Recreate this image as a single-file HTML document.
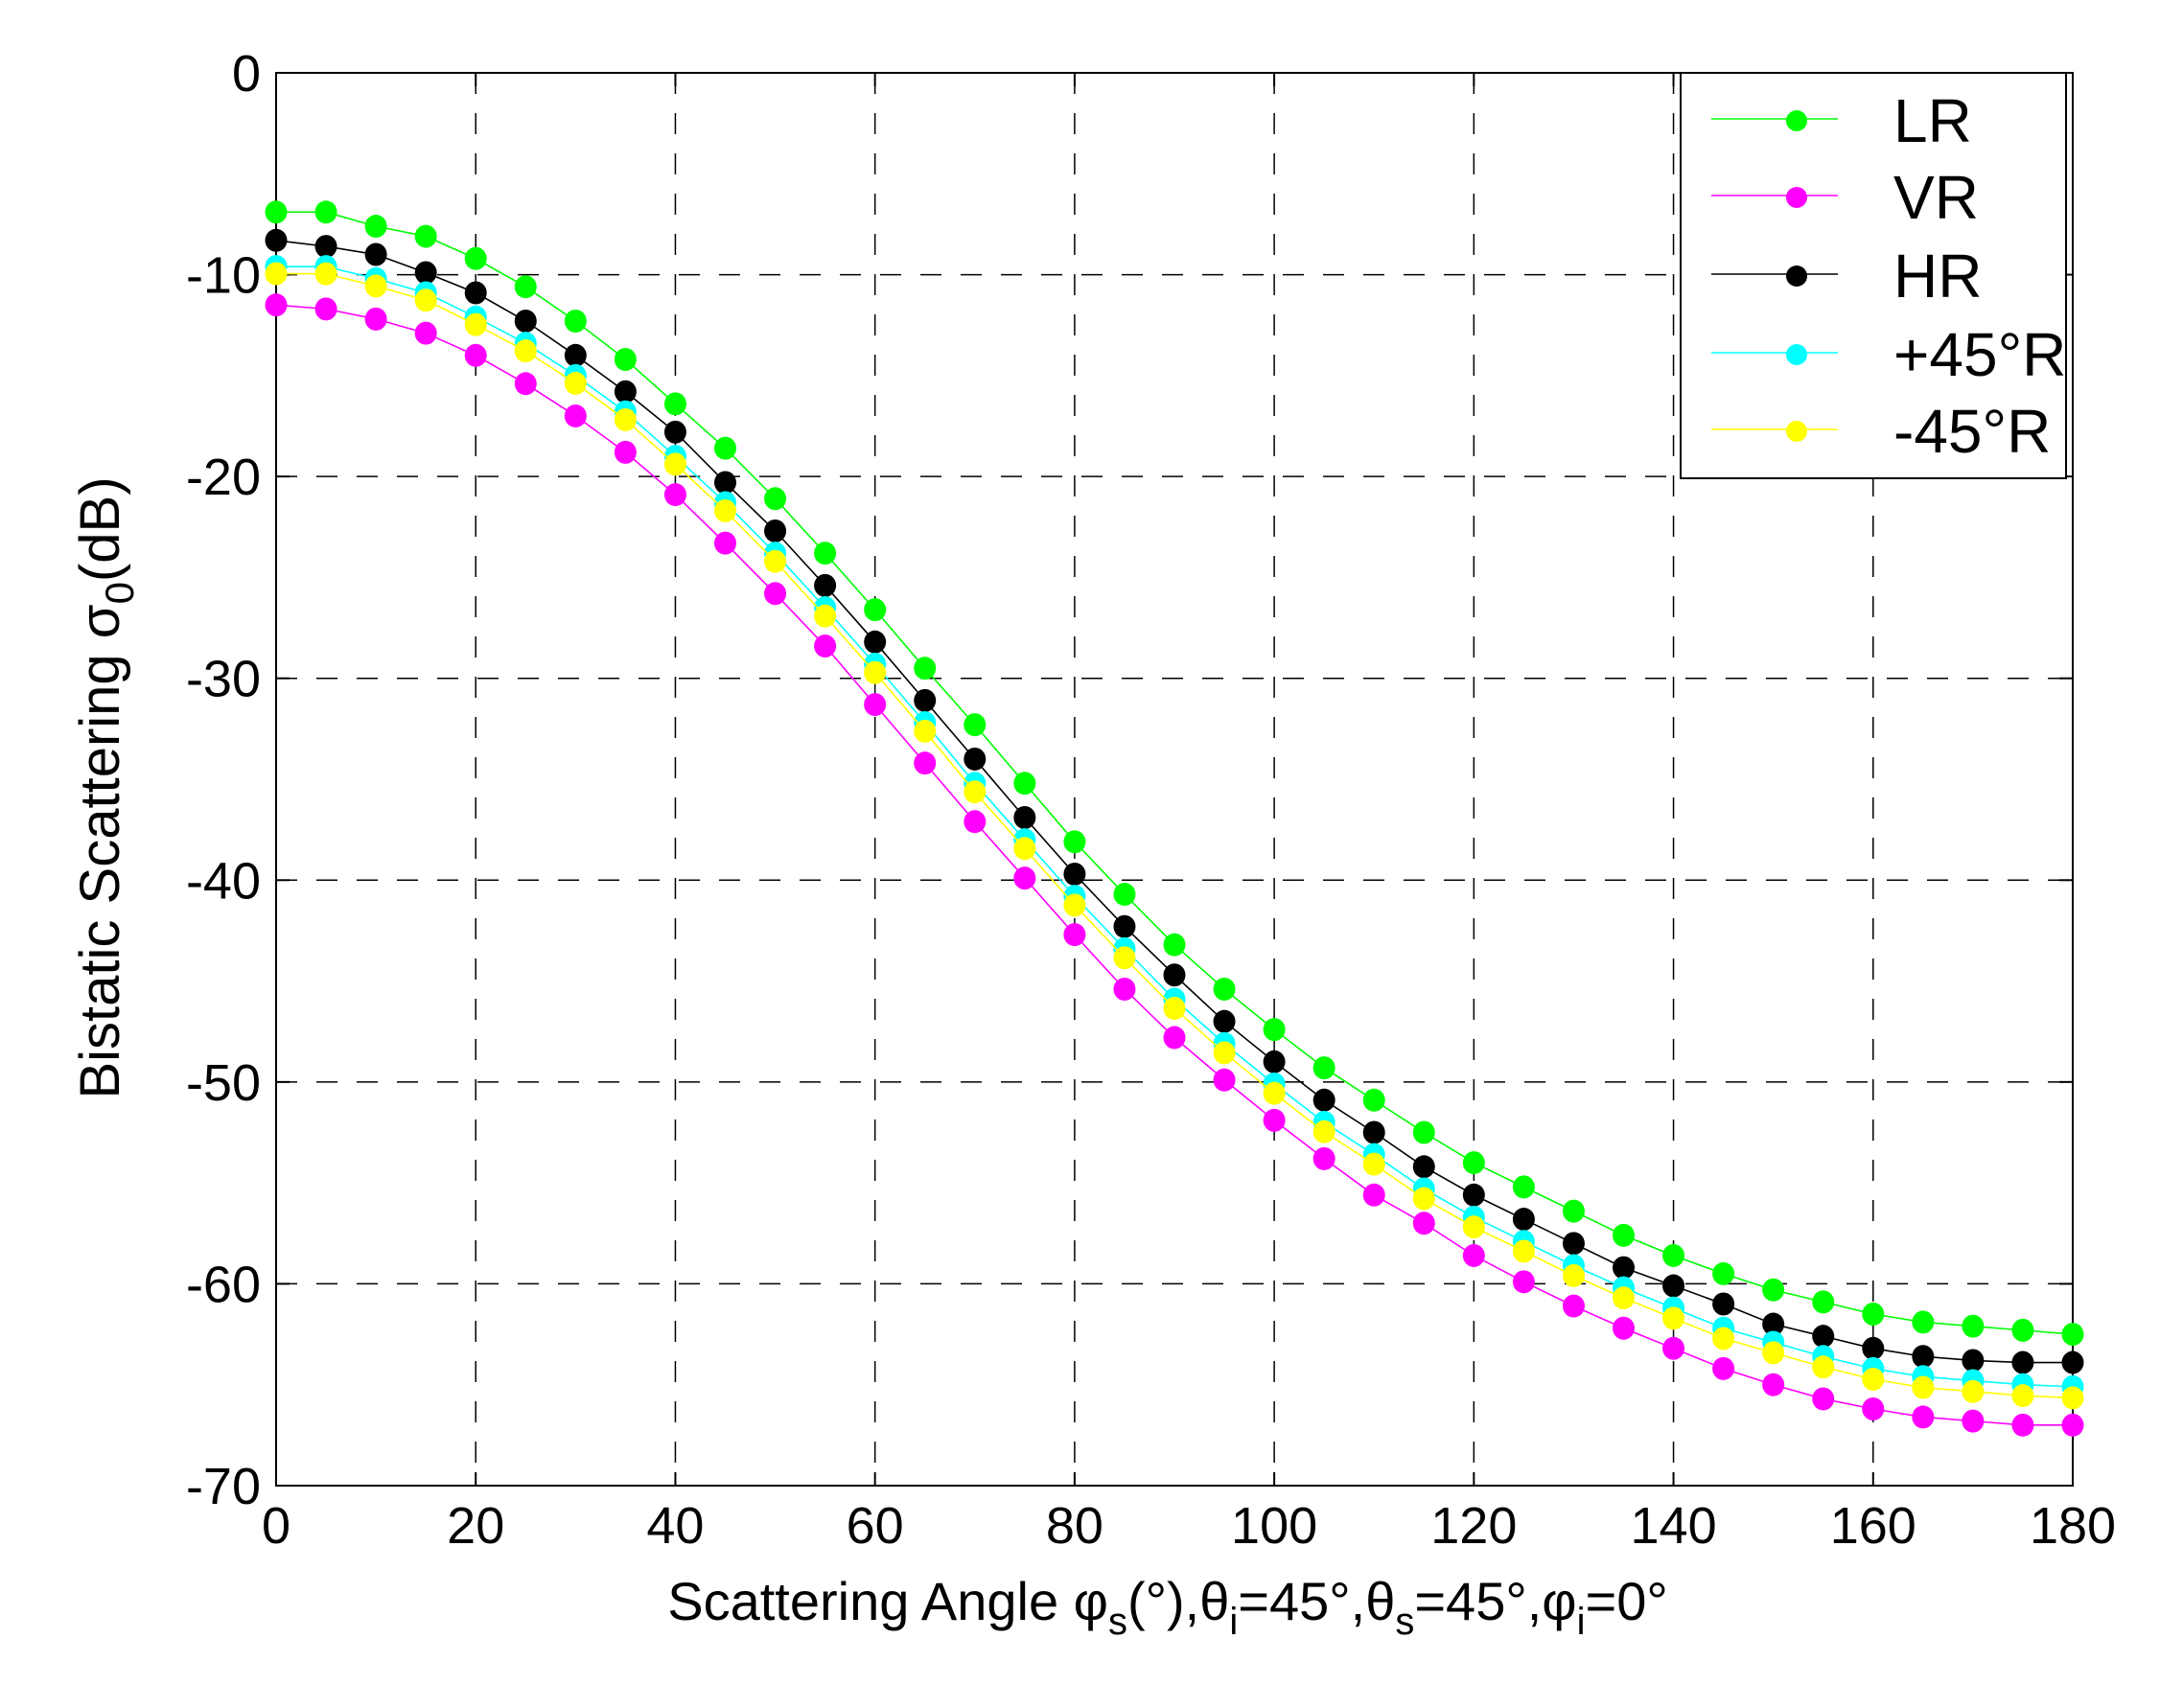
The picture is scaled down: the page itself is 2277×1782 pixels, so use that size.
<!DOCTYPE html>
<html><head><meta charset="utf-8"><style>
html,body{margin:0;padding:0;background:#fff;}
svg{display:block;}
text{font-family:"Liberation Sans",Arial,sans-serif;fill:#000;}
</style></head><body>
<svg id="s" width="2277" height="1782" xmlns="http://www.w3.org/2000/svg"></svg>
<script>
const X0=288,X1=2162,Y0=76,Y1=1550;
const sx=v=>X0+(X1-X0)*v/180, sy=v=>Y0+(Y1-Y0)*(-v)/70;
let h='<rect width="2277" height="1782" fill="#fff"/>';
for(let i=1;i<9;i++){const x=sx(i*20);h+=`<line x1="${x}" y1="${Y0}" x2="${x}" y2="${Y1}" stroke="#000" stroke-width="1.5" stroke-dasharray="22,20"/>`;}
for(let i=1;i<7;i++){const y=sy(-i*10);h+=`<line x1="${X0}" y1="${y}" x2="${X1}" y2="${y}" stroke="#000" stroke-width="1.5" stroke-dasharray="22,20"/>`;}
h+=`<rect x="${X0}" y="${Y0}" width="${X1-X0}" height="${Y1-Y0}" fill="none" stroke="#000" stroke-width="2"/>`;
for(let i=0;i<=9;i++){const x=sx(i*20);h+=`<line x1="${x}" y1="${Y1}" x2="${x}" y2="${Y1-14}" stroke="#000" stroke-width="2"/><line x1="${x}" y1="${Y0}" x2="${x}" y2="${Y0+14}" stroke="#000" stroke-width="2"/><text x="${x}" y="${Y1+60}" font-size="54" text-anchor="middle">${i*20}</text>`;}
for(let i=0;i<=7;i++){const y=sy(-i*10);h+=`<line x1="${X0}" y1="${y}" x2="${X0+14}" y2="${y}" stroke="#000" stroke-width="2"/><line x1="${X1}" y1="${y}" x2="${X1-14}" y2="${y}" stroke="#000" stroke-width="2"/><text x="${X0-16}" y="${y+19}" font-size="54" text-anchor="end">${i?'-'+i*10:'0'}</text>`;}
const LR=[-6.9,-6.9,-7.6,-8.1,-9.2,-10.6,-12.3,-14.2,-16.4,-18.6,-21.1,-23.8,-26.6,-29.5,-32.3,-35.2,-38.1,-40.7,-43.2,-45.4,-47.4,-49.3,-50.9,-52.5,-54.0,-55.2,-56.4,-57.6,-58.6,-59.5,-60.3,-60.9,-61.5,-61.9,-62.1,-62.3,-62.5];
const HR=[-8.3,-8.6,-9.0,-9.9,-10.9,-12.3,-14.0,-15.8,-17.8,-20.3,-22.7,-25.4,-28.2,-31.1,-34.0,-36.9,-39.7,-42.3,-44.7,-47.0,-49.0,-50.9,-52.5,-54.2,-55.6,-56.8,-58.0,-59.2,-60.1,-61.0,-62.0,-62.6,-63.2,-63.6,-63.8,-63.9,-63.9];
const VR=[-11.5,-11.7,-12.2,-12.9,-14.0,-15.4,-17.0,-18.8,-20.9,-23.3,-25.8,-28.4,-31.3,-34.2,-37.1,-39.9,-42.7,-45.4,-47.8,-49.9,-51.9,-53.8,-55.6,-57.0,-58.6,-59.9,-61.1,-62.2,-63.2,-64.2,-65.0,-65.7,-66.2,-66.6,-66.8,-67.0,-67.0];
const CY=[-9.6,-9.6,-10.2,-10.9,-12.1,-13.4,-15.0,-16.8,-19.0,-21.3,-23.8,-26.5,-29.3,-32.2,-35.2,-38.0,-40.8,-43.4,-45.9,-48.1,-50.1,-52.0,-53.6,-55.3,-56.7,-57.9,-59.1,-60.2,-61.2,-62.2,-62.9,-63.6,-64.2,-64.6,-64.8,-65.0,-65.1];
const YE=CY.map((v,i)=>v-0.35-0.2*i/36);
function series(d,c){let p=d.map((v,i)=>sx(i*5)+','+sy(v)).join(' ');let s=`<polyline points="${p}" fill="none" stroke="${c}" stroke-width="1.6"/>`;d.forEach((v,i)=>{s+=`<ellipse cx="${sx(i*5)}" cy="${sy(v)}" rx="11.5" ry="12" fill="${c}"/>`});return s;}
h+=series(LR,'#00ff00')+series(VR,'#ff00ff')+series(HR,'#000')+series(CY,'#00ffff')+series(YE,'#ffff00');
h+=`<rect x="1753" y="76" width="402" height="423" fill="#fff" stroke="#000" stroke-width="2"/>`;
const L=[['LR','#00ff00',124],['VR','#ff00ff',204],['HR','#000',286],['+45°R','#00ffff',368],['-45°R','#ffff00',448]];
L.forEach(([t,c,y])=>{h+=`<line x1="1785" y1="${y}" x2="1917" y2="${y}" stroke="${c}" stroke-width="1.6"/><circle cx="1874" cy="${y+2}" r="11" fill="${c}"/><text x="1975" y="${y+24}" font-size="64">${t}</text>`;});
h+=`<text x="1218" y="1690" font-size="56" text-anchor="middle">Scattering Angle φ<tspan font-size="40" dy="15">s</tspan><tspan dy="-15">(°),θ</tspan><tspan font-size="40" dy="15">i</tspan><tspan dy="-15">=45°,θ</tspan><tspan font-size="40" dy="15">s</tspan><tspan dy="-15">=45°,φ</tspan><tspan font-size="40" dy="15">i</tspan><tspan dy="-15">=0°</tspan></text>`;
h+=`<text transform="translate(124,822) rotate(-90)" font-size="58" text-anchor="middle">Bistatic Scattering σ<tspan font-size="42" dy="15">0</tspan><tspan dy="-15">(dB)</tspan></text>`;
document.getElementById('s').innerHTML=h;
</script>
</body></html>
